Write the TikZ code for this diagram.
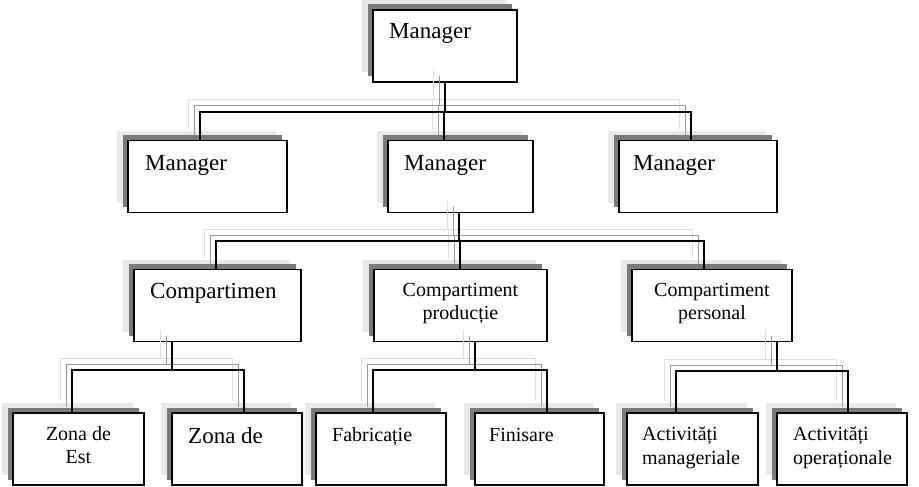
\documentclass[tikz,border=0pt]{standalone}
\usepackage{fontspec}
\setmainfont{Liberation Serif}
\usetikzlibrary{calc}
\definecolor{shL}{gray}{0.91}
\definecolor{shD}{gray}{0.48}
\definecolor{lnL}{gray}{0.87}
\definecolor{lnG}{gray}{0.6}
\begin{document}
\begin{tikzpicture}[x=1pt,y=-1pt,
  box/.style={draw=black, line width=1.1pt, fill=white, minimum width=#1,
    minimum height=72pt, inner sep=0pt, outer sep=0pt,
    preaction={draw=none, fill=shL, transform canvas={xshift=-11pt, yshift=10pt}},
    preaction={draw=none, fill=shD, transform canvas={xshift=-5.5pt, yshift=5.5pt}}},
  big/.style={font=\fontsize{23}{24}\selectfont, inner sep=0pt},
  small/.style={font=\fontsize{20}{24}\selectfont, inner sep=0pt}]
\useasboundingbox (0,0) rectangle (919,487);
% level 0
\node[box=144pt] (B0) at (445,46) {};
% level 1
\node[box=159pt] (B1) at (207.5,176.5) {};
\node[box=145pt] (B2) at (460.5,176.5) {};
\node[box=158pt] (B3) at (698,176.5) {};
% level 2
\node[box=167pt] (C1) at (217.5,305.5) {};
\node[box=173pt] (C2) at (460.5,305.5) {};
\node[box=160pt] (C3) at (712,305.5) {};
% level 3
\node[box=131pt] (D1) at (78.5,449) {};
\node[box=130pt] (D2) at (237,449) {};
\node[box=130pt] (D3) at (381,449) {};
\node[box=129pt] (D4) at (539.5,449) {};
\node[box=131pt] (D5) at (692.5,449) {};
\node[box=130pt] (D6) at (842,449) {};
% texts
\node[big, anchor=base west] (t0) at ($(B0.north west)+(16,29)$) {Manager};
\node[big, anchor=base west] (t1) at ($(B1.north west)+(17,30)$) {Manager};
\node[big, anchor=base west] (t2) at ($(B2.north west)+(16,30)$) {Manager};
\node[big, anchor=base west] (t3) at ($(B3.north west)+(14,30)$) {Manager};
\node[big, anchor=base west] (t4) at ($(C1.north west)+(16,29)$) {Compartimen};
\node[small, anchor=base] (t5a) at ($(C2.north)+(0,27)$) {Compartiment};
\node[small, anchor=base] (t5b) at ($(C2.north)+(0,50)$) {producție};
\node[small, anchor=base] (t6a) at ($(C3.north)+(0,27)$) {Compartiment};
\node[small, anchor=base] (t6b) at ($(C3.north)+(0,50)$) {personal};
\node[small, anchor=base] (t7a) at ($(D1.north)+(0,27)$) {Zona de};
\node[small, anchor=base] (t7b) at ($(D1.north)+(0,50)$) {Est};
\node[big, anchor=base west] (t8) at ($(D2.north west)+(16,30)$) {Zona de};
\node[small, anchor=base west] (t9) at ($(D3.north west)+(16,28)$) {Fabricație};
\node[small, anchor=base west] (t10) at ($(D4.north west)+(14,28)$) {Finisare};
\node[small, anchor=base west] (t11a) at ($(D5.north west)+(15,27)$) {Activități};
\node[small, anchor=base west] (t11b) at ($(D5.north west)+(15,51)$) {manageriale};
\node[small, anchor=base west] (t12a) at ($(D6.north west)+(16,27)$) {Activități};
\node[small, anchor=base west] (t12b) at ($(D6.north west)+(16,51)$) {operaționale};
% connector points
\coordinate (B0out) at ($(B0.south)+(0,0)$);
\coordinate (B1in) at ($(B1.north)+(-7.5,0)$);
\coordinate (B2in) at ($(B2.north)+(-16.5,0)$);
\coordinate (B3in) at ($(B3.north)+(-7,0)$);
\coordinate (bar0) at (0,112);
\coordinate (B2out) at ($(B2.south)+(-1.5,0)$);
\coordinate (C1in) at ($(C1.north)+(-1.5,0)$);
\coordinate (C2in) at ($(C2.north)+(-0.5,0)$);
\coordinate (C3in) at ($(C3.north)+(-8,0)$);
\coordinate (bar1) at (0,241);
\coordinate (C1out) at ($(C1.south)+(-45.5,0)$);
\coordinate (D1in) at ($(D1.north)+(-6.5,0)$);
\coordinate (D2in) at ($(D2.north)+(7,0)$);
\coordinate (bar2) at (0,370);
\coordinate (C2out) at ($(C2.south)+(14.5,0)$);
\coordinate (D3in) at ($(D3.north)+(-8,0)$);
\coordinate (D4in) at ($(D4.north)+(7.5,0)$);
\coordinate (bar3) at (0,370);
\coordinate (C3out) at ($(C3.south)+(65,0)$);
\coordinate (D5in) at ($(D5.north)+(-16.5,0)$);
\coordinate (D6in) at ($(D6.north)+(6,0)$);
\coordinate (bar4) at (0,371);
% connectors (two shadow copies and the black line)
\foreach \d/\c/\w in {12/lnL/1pt, 6/lnG/1pt, 0/black/1.1pt} {
  \begin{scope}[transform canvas={xshift=-\d pt, yshift=\d pt}]
    \draw[draw=\c, line width=\w] (B1in) |- (B3in |- bar0) -- (B3in);
    \draw[draw=\c, line width=\w] (B0out) -- (B0out |- bar0);
    \draw[draw=\c, line width=\w] (B2in) -- (B2in |- bar0);
    \draw[draw=\c, line width=\w] (C1in) |- (C3in |- bar1) -- (C3in);
    \draw[draw=\c, line width=\w] (B2out) -- (B2out |- bar1);
    \draw[draw=\c, line width=\w] (C2in) -- (C2in |- bar1);
    \draw[draw=\c, line width=\w] (D1in) |- (D2in |- bar2) -- (D2in);
    \draw[draw=\c, line width=\w] (C1out) -- (C1out |- bar2);
    \draw[draw=\c, line width=\w] (D3in) |- (D4in |- bar3) -- (D4in);
    \draw[draw=\c, line width=\w] (C2out) -- (C2out |- bar3);
    \draw[draw=\c, line width=\w] (D5in) |- (D6in |- bar4) -- (D6in);
    \draw[draw=\c, line width=\w] (C3out) -- (C3out |- bar4);
  \end{scope}
}
\end{tikzpicture}
\end{document}
